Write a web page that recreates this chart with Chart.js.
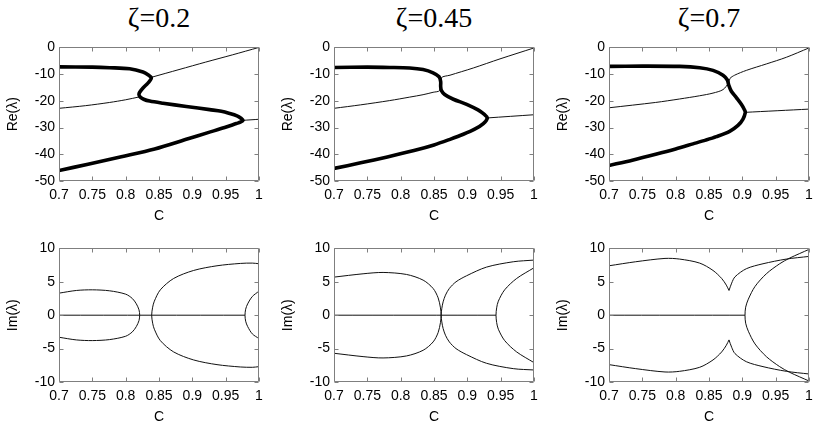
<!DOCTYPE html>
<html>
<head>
<meta charset="utf-8">
<script src="https://cdn.jsdelivr.net/npm/chart.js@4.4.1/dist/chart.umd.min.js"></script>
<style>
  body { margin: 0; background: #fff; width: 834px; height: 425px; position: relative; overflow: hidden; }
  .panel { position: absolute; }
  .zeta { position: absolute; top: 4px; width: 200px; text-align: center; font-family: "Liberation Serif", "Times New Roman", serif; font-size: 28px; line-height: 28px; color: #000; }
</style>
</head>
<body>
<div class="zeta" style="left:59px">ζ=0.2</div>
<div class="zeta" style="left:334px">ζ=0.45</div>
<div class="zeta" style="left:609px">ζ=0.7</div>

<canvas class="panel" id="re1" width="267" height="190" style="left:4px;top:35px"></canvas>
<canvas class="panel" id="re2" width="267" height="190" style="left:279px;top:35px"></canvas>
<canvas class="panel" id="re3" width="267" height="190" style="left:554px;top:35px"></canvas>
<canvas class="panel" id="im1" width="267" height="190" style="left:4px;top:236px"></canvas>
<canvas class="panel" id="im2" width="267" height="190" style="left:279px;top:236px"></canvas>
<canvas class="panel" id="im3" width="267" height="190" style="left:554px;top:236px"></canvas>

<script>
// axes
const cTicks = [0.7, 0.75, 0.8, 0.85, 0.9, 0.95, 1];
const cTickLabels = ["0.7", "0.75", "0.8", "0.85", "0.9", "0.95", "1"];
const reTicks = [-50, -40, -30, -20, -10, 0];
const reTickLabels = ["-50", "-40", "-30", "-20", "-10", "0"];
const imTicks = [-10, -5, 0, 5, 10];
const imTickLabels = ["-10", "-5", "0", "5", "10"];

// zeta = 0.2, Re(lambda)  [C, value]
const re02Thick = [[0.7,-7.3],[0.75,-7.4],[0.776,-7.6],[0.806,-8.0],[0.826,-9.2],[0.834,-10.3],[0.8385,-11.4],
  [0.836,-12.6],[0.8325,-13.6],[0.826,-15.2],[0.821,-16.8],[0.82,-17.7],[0.822,-18.6],[0.827,-19.4],[0.836,-20.1],
  [0.856,-20.9],[0.891,-22.1],[0.926,-23.3],[0.9435,-23.9],[0.956,-24.7],[0.967,-25.6],[0.973,-26.5],[0.976,-27.3],
  [0.972,-28.0],[0.966,-28.5],[0.9485,-30.0],[0.9235,-31.9],[0.8935,-34.2],[0.8435,-38.0],[0.7935,-40.9],[0.7435,-43.7],[0.7,-46.1]];
const re02ThinLeft = [[0.7,-22.8],[0.74,-21.8],[0.776,-20.6],[0.8,-19.6],[0.821,-18.5]];
const re02ThinUpper = [[0.8385,-11.2],[0.88,-8.3],[0.92,-5.5],[0.96,-2.8],[1.0,0]];
const re02ThinRight = [[0.976,-27.3],[1.0,-26.9]];

// zeta = 0.2, Im(lambda)
const im02Zero = [[0.7,0],[0.979,0]];
const im02Left = [[0.7,3.3],[0.726,3.7],[0.75,3.8],[0.776,3.65],[0.8,3.15],[0.81,2.5],[0.816,1.7],[0.82,0.8],[0.821,0],
  [0.82,-0.8],[0.816,-1.7],[0.81,-2.5],[0.8,-3.15],[0.776,-3.65],[0.75,-3.8],[0.726,-3.7],[0.7,-3.3]];
const im02Middle = [[1.0,7.7],[0.99,7.8],[0.972,7.75],[0.937,7.4],[0.902,6.7],[0.872,5.5],[0.852,3.8],[0.843,2.1],[0.8405,1.2],[0.839,0],
  [0.8405,-1.2],[0.843,-2.1],[0.852,-3.8],[0.872,-5.5],[0.902,-6.7],[0.937,-7.4],[0.972,-7.75],[0.99,-7.8],[1.0,-7.7]];
const im02Right = [[1.0,3.6],[0.99,2.8],[0.983,1.7],[0.98,0.9],[0.979,0],[0.98,-0.9],[0.983,-1.7],[0.99,-2.8],[1.0,-3.5]];

// zeta = 0.45, Re(lambda)
const re045Thick = [[0.7,-7.5],[0.75,-7.4],[0.7836,-7.5],[0.8136,-7.7],[0.8336,-8.3],[0.8486,-9.5],[0.8576,-11.0],[0.86,-12.8],
  [0.86,-14.6],[0.861,-16.1],[0.866,-17.6],[0.879,-19.4],[0.899,-21.3],[0.916,-23.4],[0.926,-25.2],[0.93,-26.4],
  [0.924,-28.5],[0.911,-30.6],[0.894,-32.5],[0.874,-34.4],[0.85,-36.5],[0.82,-38.6],[0.78,-41.0],[0.74,-43.2],[0.7,-45.3]];
const re045Thin = [[0.7,-22.8],[0.74,-21.5],[0.7836,-19.9],[0.8136,-18.6],[0.8336,-17.7],[0.8486,-16.8],[0.8586,-16.1],
  [0.861,-11.4],[0.874,-10.4],[0.909,-7.7],[0.949,-4.3],[1.0,-0.2]];
const re045ThinRight = [[0.93,-26.4],[1.0,-25.2]];

// zeta = 0.45, Im(lambda)
const im045Zero = [[0.7,0],[0.943,0]];
const im045Left = [[0.7,5.7],[0.7436,6.2],[0.7736,6.4],[0.8087,6.1],[0.8337,5.25],[0.8487,4.0],[0.8562,2.6],[0.8597,1.1],[0.8607,0],
  [0.8597,-1.1],[0.8562,-2.6],[0.8487,-4.0],[0.8337,-5.25],[0.8087,-6.1],[0.7736,-6.4],[0.7436,-6.2],[0.7,-5.7]];
const im045Middle = [[1.0,8.25],[0.9689,8.0],[0.9288,7.2],[0.8988,5.9],[0.883,5.0],[0.873,4.0],[0.8672,3.0],[0.8637,2.0],[0.8617,1.0],[0.8607,0],
  [0.8617,-1.0],[0.8637,-2.0],[0.8672,-3.0],[0.873,-4.0],[0.883,-5.0],[0.8988,-5.9],[0.9288,-7.2],[0.9689,-8.0],[1.0,-8.2]];
const im045Right = [[1.0,7.1],[0.974,5.5],[0.956,3.8],[0.9465,2.1],[0.944,1.1],[0.943,0],
  [0.944,-1.1],[0.9465,-2.1],[0.956,-3.8],[0.974,-5.5],[1.0,-7.1]];

// zeta = 0.7, Re(lambda)
const re07Thick = [[0.7,-7.1],[0.75,-7.0],[0.806,-7.1],[0.836,-7.6],[0.856,-8.6],[0.871,-10.4],[0.8775,-12.2],[0.8795,-14.0],
  [0.8835,-16.4],[0.891,-18.8],[0.8985,-21.3],[0.9035,-23.5],[0.9045,-24.3],[0.901,-26.8],[0.8935,-29.2],[0.881,-31.4],
  [0.861,-33.4],[0.845,-34.7],[0.826,-36.1],[0.8,-38.0],[0.77,-40.0],[0.735,-42.2],[0.7,-44.2]];
const re07Thin = [[0.7,-22.6],[0.77,-20.6],[0.806,-19.3],[0.836,-18.1],[0.856,-17.1],[0.871,-15.8],[0.8795,-13.2],
  [0.8815,-11.6],[0.8885,-10.4],[0.906,-8.6],[0.936,-6.2],[0.966,-3.7],[1.0,-0.2]];
const re07ThinRight = [[0.9045,-24.3],[1.0,-23.1]];

// zeta = 0.7, Im(lambda)
const im07Zero = [[0.7,0],[0.904,0]];
const im07LeftUp = [[0.7,7.4],[0.74,8.0],[0.784,8.5],[0.806,8.4],[0.836,7.8],[0.856,6.7],[0.869,5.5],[0.876,4.5],[0.88,3.7]];
const im07RightUp = [[0.88,3.7],[0.884,4.8],[0.889,5.75],[0.906,6.96],[0.931,7.7],[0.966,8.4],[1.0,8.8]];
const im07LeftDown = [[0.7,-7.4],[0.74,-8.0],[0.784,-8.5],[0.806,-8.4],[0.836,-7.8],[0.856,-6.7],[0.869,-5.5],[0.876,-4.5],[0.88,-3.7]];
const im07RightDown = [[0.88,-3.7],[0.884,-4.8],[0.889,-5.75],[0.906,-6.96],[0.931,-7.7],[0.966,-8.4],[1.0,-8.8]];
const im07Outer = [[1.0,9.85],[0.971,8.55],[0.956,7.7],[0.936,6.2],[0.919,4.3],[0.909,2.4],[0.905,1.2],[0.904,0],
  [0.905,-1.2],[0.909,-2.4],[0.919,-4.3],[0.936,-6.2],[0.956,-7.7],[0.971,-8.55],[1.0,-9.85]];

Chart.defaults.font.family = '"Liberation Sans", Arial, sans-serif';
Chart.defaults.font.size = 14;
Chart.defaults.color = "#000";

// gnuplot-style frame with inward ticks on all four sides
const frameTicks = {
  id: "frameTicks",
  afterDatasetsDraw(chart) {
    const { ctx, chartArea: a, scales: { x, y } } = chart;
    const l = Math.round(a.left) + 0.5, r = Math.round(a.right) - 0.5;
    const t = Math.round(a.top) + 0.5, b = Math.round(a.bottom) - 0.5;
    ctx.save();
    ctx.strokeStyle = "#7f7f7f";
    ctx.lineWidth = 1;
    ctx.beginPath();
    x.ticks.forEach(tk => {
      const px = Math.round(x.getPixelForValue(tk.value)) + 0.5;
      ctx.moveTo(px, b); ctx.lineTo(px, b - 4);
      ctx.moveTo(px, t); ctx.lineTo(px, t + 4);
    });
    y.ticks.forEach(tk => {
      const py = Math.round(y.getPixelForValue(tk.value)) + 0.5;
      ctx.moveTo(l, py); ctx.lineTo(l + 4, py);
      ctx.moveTo(r, py); ctx.lineTo(r - 4, py);
    });
    ctx.rect(l, t, r - l, b - t);
    ctx.stroke();
    ctx.restore();
  }
};

function thick(data) {
  return { data, showLine: true, borderColor: "#000", borderWidth: 3.6, pointRadius: 0, tension: 0.3 };
}
function thin(data) {
  return { data, showLine: true, borderColor: "#111", borderWidth: 1, pointRadius: 0, tension: 0.3 };
}

function makePanel(id, datasets, yMin, yMax, yTicks, yLabels, yTitle) {
  new Chart(document.getElementById(id), {
    type: "scatter",
    data: { datasets },
    options: {
      responsive: false,
      animation: false,
      events: [],
      layout: { padding: { top: 8, right: 12, left: 0, bottom: 0 } },
      plugins: { legend: { display: false }, tooltip: { enabled: false } },
      scales: {
        x: {
          type: "linear", min: 0.7, max: 1,
          afterBuildTicks: s => { s.ticks = cTicks.map(v => ({ value: v })); },
          afterFit: s => { s.height = 44; },
          ticks: { callback: (v, i) => cTickLabels[i], padding: 6, maxRotation: 0, autoSkip: false },
          grid: { display: false, drawTicks: false },
          border: { display: false },
          title: { display: true, text: "C", padding: { top: 0, bottom: 0 } }
        },
        y: {
          type: "linear", min: yMin, max: yMax,
          afterBuildTicks: s => { s.ticks = yTicks.map(v => ({ value: v })); },
          afterFit: s => { s.width = 55; },
          ticks: { callback: (v, i) => yLabels[i], padding: 4, autoSkip: false },
          grid: { display: false, drawTicks: false },
          border: { display: false },
          title: { display: true, text: yTitle, padding: { top: 1, bottom: 0 } }
        }
      }
    },
    plugins: [frameTicks]
  });
}

makePanel("re1", [thick(re02Thick), thin(re02ThinLeft), thin(re02ThinUpper), thin(re02ThinRight)],
  -50, 0, reTicks, reTickLabels, "Re(λ)");
makePanel("re2", [thick(re045Thick), thin(re045Thin), thin(re045ThinRight)],
  -50, 0, reTicks, reTickLabels, "Re(λ)");
makePanel("re3", [thick(re07Thick), thin(re07Thin), thin(re07ThinRight)],
  -50, 0, reTicks, reTickLabels, "Re(λ)");

makePanel("im1", [thin(im02Zero), thin(im02Left), thin(im02Middle), thin(im02Right)],
  -10, 10, imTicks, imTickLabels, "Im(λ)");
makePanel("im2", [thin(im045Zero), thin(im045Left), thin(im045Middle), thin(im045Right)],
  -10, 10, imTicks, imTickLabels, "Im(λ)");
makePanel("im3", [thin(im07Zero), thin(im07LeftUp), thin(im07RightUp), thin(im07LeftDown), thin(im07RightDown), thin(im07Outer)],
  -10, 10, imTicks, imTickLabels, "Im(λ)");
</script>
</body>
</html>
